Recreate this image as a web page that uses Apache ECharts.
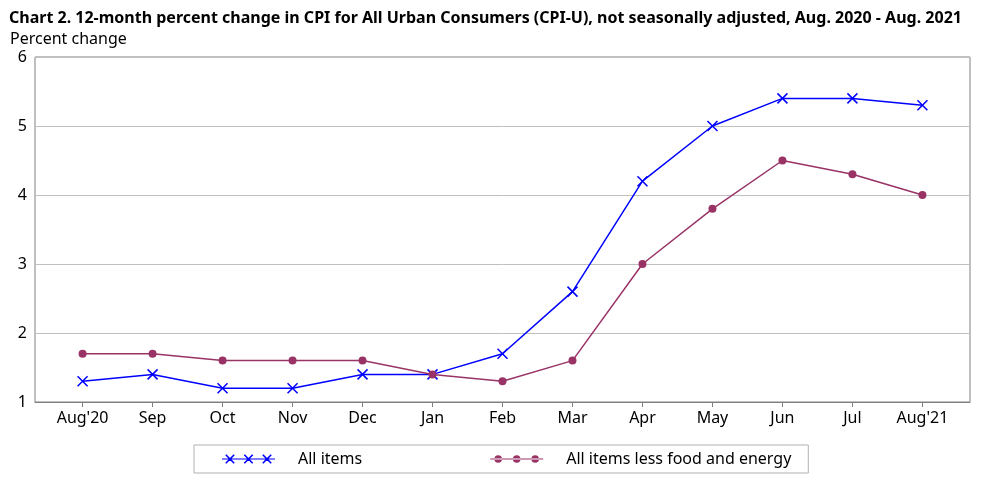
<!DOCTYPE html>
<html><head><meta charset="utf-8">
<script src="https://cdn.jsdelivr.net/npm/echarts@6/dist/echarts.min.js"></script>
<style>html,body{margin:0;padding:0;background:#fff}#c{width:989px;height:485px}</style>
</head><body><div id="c"></div>
<script>
var months = ["Aug'20","Sep","Oct","Nov","Dec","Jan","Feb","Mar","Apr","May","Jun","Jul","Aug'21"];
var allItems = [1.3,1.4,1.2,1.2,1.4,1.4,1.7,2.6,4.2,5.0,5.4,5.4,5.3];
var coreItems = [1.7,1.7,1.6,1.6,1.6,1.4,1.3,1.6,3.0,3.8,4.5,4.3,4.0];
var yTicks = [1,2,3,4,5,6];

var FONT = 'Noto Sans';
function xPoly(cx, cy, r, t) {
  var a = t / 1.414;
  function bar(dx, dy) {
    return 'M' + (cx - dx * r - dy * a) + ' ' + (cy - dy * r + dx * a) +
      'L' + (cx - dx * r + dy * a) + ' ' + (cy - dy * r - dx * a) +
      'L' + (cx + dx * r + dy * a) + ' ' + (cy + dy * r - dx * a) +
      'L' + (cx + dx * r - dy * a) + ' ' + (cy + dy * r + dx * a) + 'Z';
  }
  return bar(1, 1) + bar(1, -1);
}
var W = 53, H = 12;
var crossIcon = 'path://M0 5.5L' + W + ' 5.5L' + W + ' 6.5L0 6.5Z' +
  xPoly(8, 6, 4.2, 0.8) + xPoly(26.5, 6, 4.2, 0.8) + xPoly(45, 6, 4.2, 0.8) +
  'M0 0L0.01 0L0.01 0.01Z M0 12L0.01 12L0.01 11.99Z';
function circ(cx, cy, r) {
  return 'M' + (cx - r) + ' ' + cy + 'A' + r + ' ' + r + ' 0 1 0 ' + (cx + r) + ' ' + cy +
    'A' + r + ' ' + r + ' 0 1 0 ' + (cx - r) + ' ' + cy + 'Z';
}
var dotIcon = 'path://M0 5.5L' + W + ' 5.5L' + W + ' 6.5L0 6.5Z' +
  circ(8, 6, 3.8) + circ(26.5, 6, 3.8) + circ(45, 6, 3.8) +
  'M0 0L0.01 0L0.01 0.01Z M0 12L0.01 12L0.01 11.99Z';

var idx = months.map(function (m, i) { return i; });
var chart = echarts.init(document.getElementById('c'));
chart.setOption({
  animation: false,
  title: [
    { text: 'Chart 2. 12-month percent change in CPI for All Urban Consumers (CPI-U), not seasonally adjusted, Aug. 2020 - Aug. 2021',
      left: 9, top: 10, padding: 0,
      textStyle: { fontFamily: FONT, fontSize: 16, fontWeight: 'bold', color: '#000' } },
    { text: 'Percent change', left: 10, top: 31, padding: 0,
      textStyle: { fontFamily: FONT, fontSize: 16, fontWeight: 'normal', color: '#000' } }
  ],
  grid: { left: 35, right: 19, top: 57, bottom: 83, show: true, borderColor: '#808080', borderWidth: 1 },
  xAxis: {
    type: 'value', min: -0.68, max: 12.68,
    axisLine: { show: true, lineStyle: { color: '#808080' } },
    splitLine: { show: false },
    axisTick: { show: true, customValues: idx, length: 5, lineStyle: { color: '#808080' } },
    axisLabel: { customValues: idx, margin: 8, fontFamily: FONT, fontSize: 16, color: '#000',
      formatter: function (v) { return months[Math.round(v)]; } }
  },
  yAxis: {
    type: 'value', min: 1, max: 6, interval: 1,
    axisLine: { show: false }, axisTick: { show: false },
    splitLine: { lineStyle: { color: '#c0c0c0' } },
    axisLabel: { margin: 8, fontFamily: FONT, fontSize: 16, color: '#000',
      customValues: yTicks }
  },
  legend: {
    left: 194, top: 445,
    padding: [6, 17, 6, 28],
    borderColor: '#b0b0b0', borderWidth: 1,
    itemWidth: W, itemHeight: H, itemGap: 128,
    textStyle: { fontFamily: FONT, fontSize: 16, color: '#000', padding: [0, 0, 0, 18] },
    itemStyle: { borderWidth: 0 },
    data: [
      { name: 'All items', icon: crossIcon, itemStyle: { color: '#0000ff', borderWidth: 0 } },
      { name: 'All items less food and energy', icon: dotIcon, itemStyle: { color: '#993366', borderWidth: 0 } }
    ]
  },
  series: [
    { name: 'All items', type: 'line', data: allItems.map(function (v, i) { return [i, v]; }),
      symbol: 'path://M0 0L10 10M10 0L0 10', symbolSize: 10,
      itemStyle: { color: '#0000ff', borderColor: '#0000ff', borderWidth: 1.5 },
      lineStyle: { color: '#0000ff', width: 1.5 } },
    { name: 'All items less food and energy', type: 'line', data: coreItems.map(function (v, i) { return [i, v]; }),
      symbol: 'circle', symbolSize: 8,
      itemStyle: { color: '#993366', borderWidth: 0 },
      lineStyle: { color: '#993366', width: 1.5 } }
  ]
});
</script></body></html>
